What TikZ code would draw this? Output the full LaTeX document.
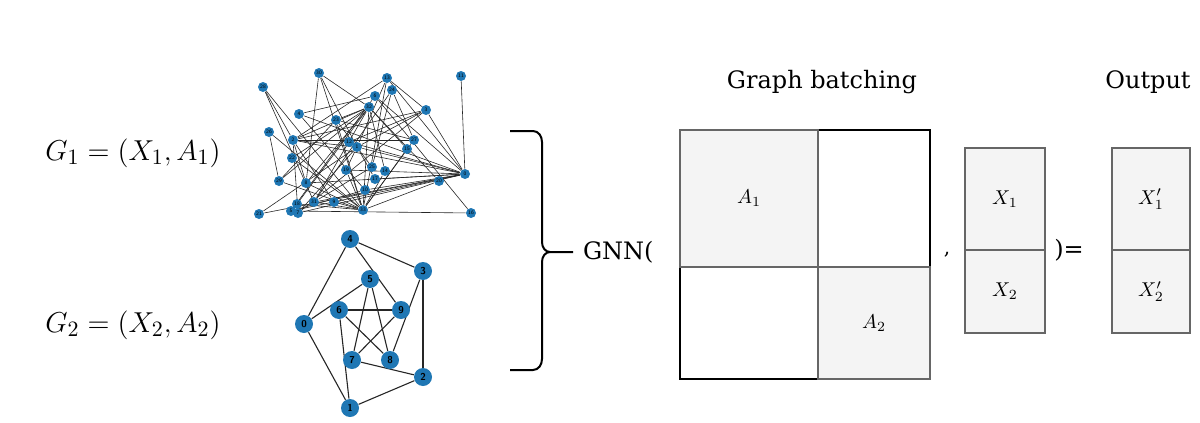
\documentclass[tikz,border=0pt]{standalone}
\usepackage{fontspec}
\setmainfont{DejaVu Serif}
\usetikzlibrary{backgrounds}
\definecolor{nxblue}{RGB}{31,119,180}
\definecolor{cellgray}{RGB}{244,244,244}
\definecolor{edgegray}{RGB}{102,102,102}
\tikzset{
  small node/.style={circle, fill=nxblue, minimum size=5pt, inner sep=0pt,
    font=\sffamily\fontsize{2.6}{3}\selectfont},
  big node/.style={circle, fill=nxblue, minimum size=9pt, inner sep=0pt,
    font=\sffamily\bfseries\fontsize{5}{6}\selectfont},
  graph edge/.style={black!85, line width=0.3pt},
  full cell/.style={draw=edgegray, fill=cellgray, line width=1pt, inner sep=0pt},
  empty cell/.style={draw=black, line width=1pt, inner sep=0pt},
}
\begin{document}
\begin{tikzpicture}[x=0.5pt, y=-0.5pt]
    \useasboundingbox (0,0) rectangle (1200,423);

    % -- labels on the left --
    \node[font=\fontsize{15}{18}\selectfont] (lab1) at (133,153) {$G_1 = (X_1, A_1)$};
    \node[font=\fontsize{15}{18}\selectfont] (lab2) at (133,325) {$G_2 = (X_2, A_2)$};

    % -- first graph (34 nodes) --
    \foreach \n/\x/\y in {0/465/174, 1/357/147, 2/293/140, 3/426/110, 4/299/114,
        5/291/211, 6/375/96, 7/298/213, 8/306/183, 9/334/202, 10/365/190,
        11/461/76, 12/349/142, 13/387/78, 14/385/171, 15/407/149, 16/471/213,
        17/375/179, 18/297/204, 19/346/170, 20/439/181, 21/259/214, 22/292/158,
        23/336/120, 24/392/90, 25/372/167, 26/269/132, 27/414/140, 28/263/87,
        29/279/181, 30/319/73, 31/314/202, 32/369/107, 33/363/210}
        \node[small node] (a\n) at (\x,\y) {\n};
    \begin{scope}[on background layer]
        \foreach \s/\tl in {0/{1,2,3,4,5,6,7,8,10,11,12,13,17,19,21,31},
            1/{2,3,7,13,17,19,21,30}, 2/{3,7,8,9,13,27,28,32}, 3/{7,12,13},
            4/{6,10}, 5/{6,10,16}, 6/{16}, 8/{30,32,33}, 9/{33}, 13/{33},
            14/{32,33}, 15/{32,33}, 18/{32,33}, 19/{33}, 20/{32,33}, 22/{32,33},
            23/{25,27,29,32,33}, 24/{25,27,31}, 25/{31}, 26/{29,33}, 27/{33},
            28/{31,33}, 29/{32,33}, 30/{32,33}, 31/{32,33}, 32/{33}}
            \foreach \t in \tl
                \draw[graph edge] (a\s) -- (a\t);
    \end{scope}

    % -- second graph (Petersen) --
    \foreach \n/\x/\y in {0/304/324, 1/350/408, 2/423/377, 3/423/271, 4/350/239,
        5/370/279, 6/339/310, 7/352/360, 8/390/360, 9/401/310}
        \node[big node] (b\n) at (\x,\y) {\n};
    \begin{scope}[on background layer]
        \foreach \s/\t in {0/1, 1/2, 2/3, 3/4, 4/0, 0/5, 1/6, 2/7, 3/8, 4/9,
            5/7, 7/9, 9/6, 6/8, 8/5}
            \draw[graph edge, line width=0.55pt] (b\s) -- (b\t);
    \end{scope}

    % -- brace --
    \draw[line width=1pt] (510,131) -- (533,131) to[out=0, in=90] (542,142)
        -- (542,242) to[out=-90, in=180] (550,252) -- (573,252);
    \draw[line width=1pt] (510,370) -- (533,370) to[out=0, in=-90] (542,359)
        -- (542,262) to[out=90, in=180] (550,252);

    \node[font=\fontsize{12}{14}\selectfont, anchor=west] (gnn) at (576,252) {GNN(};
    \node[font=\fontsize{12}{14}\selectfont] (title) at (822,82) {Graph batching};
    \node[font=\fontsize{12}{14}\selectfont] (out) at (1148,82) {Output};

    % -- batched adjacency matrix --
    \node[empty cell, minimum width=56pt, minimum height=68.5pt] (m12) at (874,198.5) {};
    \node[empty cell, minimum width=69pt, minimum height=56pt] (m21) at (749,323) {};
    \node[full cell, minimum width=69pt, minimum height=68.5pt] (m11) at (749,198.5) {$A_1$};
    \node[full cell, minimum width=56pt, minimum height=56pt] (m22) at (874,323) {$A_2$};

    \node (comma) at (947,255) {,};

    % -- node features --
    \node[full cell, minimum width=40pt, minimum height=51pt] (x1) at (1005,199) {$X_1$};
    \node[full cell, minimum width=40pt, minimum height=41.5pt] (x2) at (1005,291.5) {$X_2$};
    \node[font=\fontsize{12}{14}\selectfont] (eq) at (1069,250) {)=};

    % -- output features --
    \node[full cell, minimum width=39pt, minimum height=51pt] (y1) at (1151,199) {$X_1'$};
    \node[full cell, minimum width=39pt, minimum height=41.5pt] (y2) at (1151,291.5) {$X_2'$};
\end{tikzpicture}
\end{document}
